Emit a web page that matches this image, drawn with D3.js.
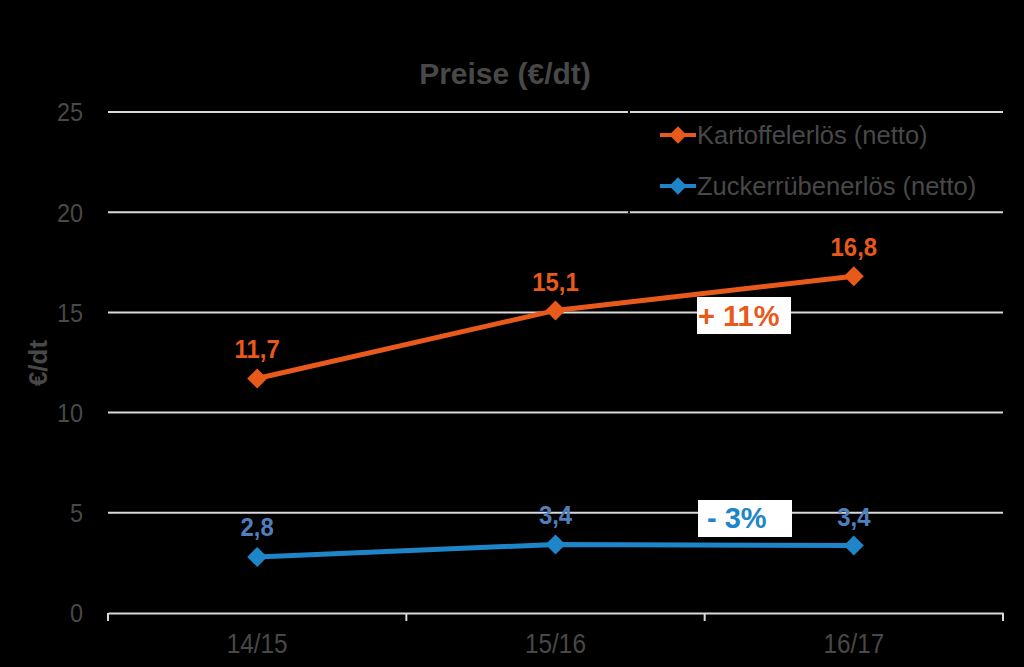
<!DOCTYPE html>
<html><head><meta charset="utf-8">
<script src="https://cdn.jsdelivr.net/npm/d3@7"></script>
<style>
html,body{margin:0;padding:0;background:#000;}
svg{display:block;}
</style></head>
<body>
<script>
const categories = ["14/15", "15/16", "16/17"];
const kartoffel = [11.7, 15.1, 16.8];
const zucker = [2.8, 3.42, 3.37];
const seriesNames = ["Kartoffelerlös (netto)", "Zuckerrübenerlös (netto)"];
const yTicks = [0, 5, 10, 15, 20, 25];
const changeLabels = ["+ 11%", "- 3%"];

const W = 1024, H = 667;
const margin = {left: 108, right: 21, top: 112, bottom: 54};
const svg = d3.select("body").append("svg").attr("width", W).attr("height", H)
  .style("background", "#000");

const x = d3.scaleBand().domain(categories).range([margin.left, W - margin.right]);
const y = d3.scaleLinear().domain([0, 25]).range([H - margin.bottom, margin.top]);

const grid = "#d9d9d9";
const textGrey = "#484848";
const orange = "#e8591c";
const blue = "#1d85c8";
const blueLabel = "#4f7fbd";
const sans = "'Liberation Sans', Arial, sans-serif";

// gridlines
svg.append("g").selectAll("line").data(yTicks.filter(d => d > 0)).join("line")
  .attr("x1", margin.left).attr("x2", W - margin.right)
  .attr("y1", d => y(d)).attr("y2", d => y(d))
  .attr("stroke", grid).attr("stroke-width", 2);

// y labels (slightly condensed)
svg.append("g").selectAll("text").data(yTicks).join("text")
  .attr("transform", d => `translate(83,${y(d)}) scale(0.9,1)`).attr("dy", "0.36em")
  .attr("text-anchor", "end").attr("font-family", sans).attr("font-size", 26)
  .attr("fill", textGrey).text(d => d);

// x axis
const xAxis = d3.axisBottom(x).tickSize(0).tickFormat("");
const gx = svg.append("g").attr("transform", `translate(0,${y(0)})`).call(xAxis);
gx.select(".domain").attr("stroke", grid).attr("stroke-width", 2);
const bounds = categories.map(c => x(c)).concat([x(categories[categories.length-1]) + x.bandwidth()]);
svg.append("g").selectAll("line").data(bounds).join("line")
  .attr("x1", d => d).attr("x2", d => d).attr("y1", y(0)).attr("y2", y(0) + 8)
  .attr("stroke", grid).attr("stroke-width", 2);
const cx = c => x(c) + x.bandwidth() / 2;
svg.append("g").selectAll("text").data(categories).join("text")
  .attr("transform", d => `translate(${cx(d)},653) scale(0.9,1)`)
  .attr("text-anchor", "middle").attr("font-family", sans).attr("font-size", 27)
  .attr("fill", textGrey).text(d => d);

// title
svg.append("text").attr("x", 505).attr("y", 84).attr("text-anchor", "middle")
  .attr("font-family", sans).attr("font-weight", "bold").attr("font-size", 30)
  .attr("fill", textGrey).text("Preise (€/dt)");

// y axis title
svg.append("text").attr("transform", `translate(47,363) rotate(-90)`)
  .attr("text-anchor", "middle").attr("font-family", sans).attr("font-weight", "bold")
  .attr("font-size", 26).attr("fill", textGrey).text("€/dt");

const line = d3.line().x((d, i) => cx(categories[i])).y(d => y(d));

function drawSeries(vals, color, labelColor, offsets) {
  svg.append("path").datum(vals).attr("d", line).attr("fill", "none")
    .attr("stroke", color).attr("stroke-width", 5);
  svg.append("g").selectAll("path").data(vals).join("path")
    .attr("transform", (d, i) => `translate(${cx(categories[i])},${y(d)}) rotate(45)`)
    .attr("d", d3.symbol().type(d3.symbolSquare).size(200)).attr("fill", color);
  svg.append("g").selectAll("text").data(vals).join("text")
    .attr("transform", (d, i) => `translate(${cx(categories[i])},${y(d) - offsets[i]}) scale(0.92,1)`)
    .attr("text-anchor", "middle").attr("font-family", sans).attr("font-weight", "bold")
    .attr("font-size", 26).attr("fill", labelColor)
    .text(d => d3.format(".1f")(d).replace(".", ","));
}
drawSeries(kartoffel, orange, orange, [21, 19, 20]);
drawSeries(zucker, blue, blueLabel, [21, 20, 19]);

// change boxes
function changeBox(bx, by, tx, ty, txt, color) {
  const g = svg.append("g");
  g.append("rect").attr("x", bx).attr("y", by).attr("width", 94).attr("height", 37).attr("fill", "#fff");
  g.append("text").attr("x", tx).attr("y", ty)
    .attr("font-family", sans).attr("font-weight", "bold").attr("font-size", 29).attr("fill", color).text(txt);
}
changeBox(697, 297, 698, 326, changeLabels[0], orange);
changeBox(698, 500, 707, 528, changeLabels[1], blue);

// legend
const legend = svg.append("g");
legend.append("rect").attr("x", 629).attr("y", y(25) + 1.5).attr("width", W - margin.right - 629).attr("height", y(20) - y(25) - 3).attr("fill", "#000");
legend.append("rect").attr("x", 628).attr("y", y(25) - 1).attr("width", 2).attr("height", 2).attr("fill", "#000");
legend.append("rect").attr("x", 628).attr("y", y(20) - 1).attr("width", 2).attr("height", 2).attr("fill", "#000");
[[orange, 135], [blue, 186]].forEach(([c, ly], i) => {
  legend.append("line").attr("x1", 660).attr("x2", 696).attr("y1", ly).attr("y2", ly).attr("stroke", c).attr("stroke-width", 4);
  legend.append("path").attr("transform", `translate(678,${ly}) rotate(45)`)
    .attr("d", d3.symbol().type(d3.symbolSquare).size(150)).attr("fill", c);
  legend.append("text").attr("x", 697).attr("y", ly + 9)
    .attr("font-family", sans).attr("font-size", 25.5).attr("fill", textGrey).text(seriesNames[i]);
});
</script>
</body></html>
